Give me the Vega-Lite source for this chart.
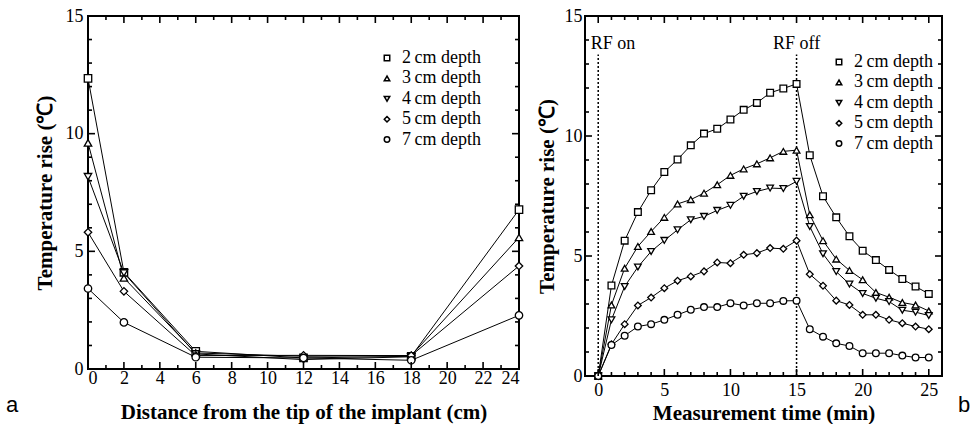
{
  "$schema": "https://vega.github.io/schema/vega-lite/v6.json",
  "background": "white",
  "padding": {"left": 4, "top": 6, "right": 0, "bottom": 0},
  "spacing": 8,
  "resolve": {"scale": {"shape": "independent"}, "legend": {"shape": "independent"}},
  "config": {
    "font": "Liberation Serif",
    "view": {"stroke": "black", "strokeWidth": 2},
    "axis": {
      "domain": false, "ticks": true, "tickSize": 0, "labelOverlap": false,
      "labelColor": "black", "labelFont": "Liberation Serif", "labelFontSize": 18,
      "titleFont": "Liberation Serif", "titleFontSize": 21, "titleFontWeight": "bold", "titleColor": "black",
      "grid": false
    },
    "legend": {
      "labelFont": "Liberation Serif", "labelFontSize": 18, "labelColor": "black", "labelOffset": 6,
      "symbolSize": 30, "rowPadding": 2.4
    },
    "rule": {"color": "black", "strokeWidth": 1.6}
  },
  "datasets": {
    "dist": [
      {"depth": "2\u2009cm depth", "d": 0, "temp": 12.35}, {"depth": "2\u2009cm depth", "d": 2, "temp": 4.11}, {"depth": "2\u2009cm depth", "d": 6, "temp": 0.75}, {"depth": "2\u2009cm depth", "d": 12, "temp": 0.47}, {"depth": "2\u2009cm depth", "d": 18, "temp": 0.54}, {"depth": "2\u2009cm depth", "d": 24, "temp": 6.77},
      {"depth": "3\u2009cm depth", "d": 0, "temp": 9.61}, {"depth": "3\u2009cm depth", "d": 2, "temp": 3.87}, {"depth": "3\u2009cm depth", "d": 6, "temp": 0.68}, {"depth": "3\u2009cm depth", "d": 12, "temp": 0.54}, {"depth": "3\u2009cm depth", "d": 18, "temp": 0.57}, {"depth": "3\u2009cm depth", "d": 24, "temp": 5.59},
      {"depth": "4\u2009cm depth", "d": 0, "temp": 8.17}, {"depth": "4\u2009cm depth", "d": 2, "temp": 4.08}, {"depth": "4\u2009cm depth", "d": 6, "temp": 0.64}, {"depth": "4\u2009cm depth", "d": 12, "temp": 0.40}, {"depth": "4\u2009cm depth", "d": 18, "temp": 0.52},
      {"depth": "5\u2009cm depth", "d": 0, "temp": 5.81}, {"depth": "5\u2009cm depth", "d": 2, "temp": 3.30}, {"depth": "5\u2009cm depth", "d": 6, "temp": 0.57}, {"depth": "5\u2009cm depth", "d": 12, "temp": 0.58}, {"depth": "5\u2009cm depth", "d": 18, "temp": 0.57}, {"depth": "5\u2009cm depth", "d": 24, "temp": 4.38},
      {"depth": "7\u2009cm depth", "d": 0, "temp": 3.42}, {"depth": "7\u2009cm depth", "d": 2, "temp": 1.98}, {"depth": "7\u2009cm depth", "d": 6, "temp": 0.50}, {"depth": "7\u2009cm depth", "d": 12, "temp": 0.47}, {"depth": "7\u2009cm depth", "d": 18, "temp": 0.37}, {"depth": "7\u2009cm depth", "d": 24, "temp": 2.28}
    ],
    "time": [
      {"depth": "2\u2009cm depth", "t": 0, "temp": 0}, {"depth": "2\u2009cm depth", "t": 1, "temp": 3.77}, {"depth": "2\u2009cm depth", "t": 2, "temp": 5.64}, {"depth": "2\u2009cm depth", "t": 3, "temp": 6.83}, {"depth": "2\u2009cm depth", "t": 4, "temp": 7.74}, {"depth": "2\u2009cm depth", "t": 5, "temp": 8.50}, {"depth": "2\u2009cm depth", "t": 6, "temp": 9.02}, {"depth": "2\u2009cm depth", "t": 7, "temp": 9.61}, {"depth": "2\u2009cm depth", "t": 8, "temp": 10.10}, {"depth": "2\u2009cm depth", "t": 9, "temp": 10.30}, {"depth": "2\u2009cm depth", "t": 10, "temp": 10.69}, {"depth": "2\u2009cm depth", "t": 11, "temp": 11.09}, {"depth": "2\u2009cm depth", "t": 12, "temp": 11.38}, {"depth": "2\u2009cm depth", "t": 13, "temp": 11.80}, {"depth": "2\u2009cm depth", "t": 14, "temp": 11.98}, {"depth": "2\u2009cm depth", "t": 15, "temp": 12.17}, {"depth": "2\u2009cm depth", "t": 16, "temp": 9.20}, {"depth": "2\u2009cm depth", "t": 17, "temp": 7.49}, {"depth": "2\u2009cm depth", "t": 18, "temp": 6.61}, {"depth": "2\u2009cm depth", "t": 19, "temp": 5.82}, {"depth": "2\u2009cm depth", "t": 20, "temp": 5.22}, {"depth": "2\u2009cm depth", "t": 21, "temp": 4.83}, {"depth": "2\u2009cm depth", "t": 22, "temp": 4.42}, {"depth": "2\u2009cm depth", "t": 23, "temp": 4.04}, {"depth": "2\u2009cm depth", "t": 24, "temp": 3.73}, {"depth": "2\u2009cm depth", "t": 25, "temp": 3.42},
      {"depth": "3\u2009cm depth", "t": 0, "temp": 0}, {"depth": "3\u2009cm depth", "t": 1, "temp": 2.96}, {"depth": "3\u2009cm depth", "t": 2, "temp": 4.49}, {"depth": "3\u2009cm depth", "t": 3, "temp": 5.40}, {"depth": "3\u2009cm depth", "t": 4, "temp": 6.02}, {"depth": "3\u2009cm depth", "t": 5, "temp": 6.61}, {"depth": "3\u2009cm depth", "t": 6, "temp": 7.17}, {"depth": "3\u2009cm depth", "t": 7, "temp": 7.35}, {"depth": "3\u2009cm depth", "t": 8, "temp": 7.62}, {"depth": "3\u2009cm depth", "t": 9, "temp": 7.97}, {"depth": "3\u2009cm depth", "t": 10, "temp": 8.36}, {"depth": "3\u2009cm depth", "t": 11, "temp": 8.63}, {"depth": "3\u2009cm depth", "t": 12, "temp": 8.84}, {"depth": "3\u2009cm depth", "t": 13, "temp": 9.09}, {"depth": "3\u2009cm depth", "t": 14, "temp": 9.36}, {"depth": "3\u2009cm depth", "t": 15, "temp": 9.41}, {"depth": "3\u2009cm depth", "t": 16, "temp": 6.72}, {"depth": "3\u2009cm depth", "t": 17, "temp": 5.64}, {"depth": "3\u2009cm depth", "t": 18, "temp": 4.87}, {"depth": "3\u2009cm depth", "t": 19, "temp": 4.40}, {"depth": "3\u2009cm depth", "t": 20, "temp": 4.01}, {"depth": "3\u2009cm depth", "t": 21, "temp": 3.48}, {"depth": "3\u2009cm depth", "t": 22, "temp": 3.28}, {"depth": "3\u2009cm depth", "t": 23, "temp": 3.06}, {"depth": "3\u2009cm depth", "t": 24, "temp": 2.96}, {"depth": "3\u2009cm depth", "t": 25, "temp": 2.71},
      {"depth": "4\u2009cm depth", "t": 0, "temp": 0}, {"depth": "4\u2009cm depth", "t": 1, "temp": 2.34}, {"depth": "4\u2009cm depth", "t": 2, "temp": 3.73}, {"depth": "4\u2009cm depth", "t": 3, "temp": 4.54}, {"depth": "4\u2009cm depth", "t": 4, "temp": 5.19}, {"depth": "4\u2009cm depth", "t": 5, "temp": 5.65}, {"depth": "4\u2009cm depth", "t": 6, "temp": 6.09}, {"depth": "4\u2009cm depth", "t": 7, "temp": 6.51}, {"depth": "4\u2009cm depth", "t": 8, "temp": 6.65}, {"depth": "4\u2009cm depth", "t": 9, "temp": 6.90}, {"depth": "4\u2009cm depth", "t": 10, "temp": 7.11}, {"depth": "4\u2009cm depth", "t": 11, "temp": 7.49}, {"depth": "4\u2009cm depth", "t": 12, "temp": 7.69}, {"depth": "4\u2009cm depth", "t": 13, "temp": 7.83}, {"depth": "4\u2009cm depth", "t": 14, "temp": 7.81}, {"depth": "4\u2009cm depth", "t": 15, "temp": 8.11}, {"depth": "4\u2009cm depth", "t": 16, "temp": 6.23}, {"depth": "4\u2009cm depth", "t": 17, "temp": 5.09}, {"depth": "4\u2009cm depth", "t": 18, "temp": 4.35}, {"depth": "4\u2009cm depth", "t": 19, "temp": 3.83}, {"depth": "4\u2009cm depth", "t": 20, "temp": 3.44}, {"depth": "4\u2009cm depth", "t": 21, "temp": 3.24}, {"depth": "4\u2009cm depth", "t": 22, "temp": 3.10}, {"depth": "4\u2009cm depth", "t": 23, "temp": 2.74}, {"depth": "4\u2009cm depth", "t": 24, "temp": 2.66}, {"depth": "4\u2009cm depth", "t": 25, "temp": 2.52},
      {"depth": "5\u2009cm depth", "t": 0, "temp": 0}, {"depth": "5\u2009cm depth", "t": 1, "temp": 1.32}, {"depth": "5\u2009cm depth", "t": 2, "temp": 2.16}, {"depth": "5\u2009cm depth", "t": 3, "temp": 2.94}, {"depth": "5\u2009cm depth", "t": 4, "temp": 3.27}, {"depth": "5\u2009cm depth", "t": 5, "temp": 3.66}, {"depth": "5\u2009cm depth", "t": 6, "temp": 3.97}, {"depth": "5\u2009cm depth", "t": 7, "temp": 4.15}, {"depth": "5\u2009cm depth", "t": 8, "temp": 4.36}, {"depth": "5\u2009cm depth", "t": 9, "temp": 4.73}, {"depth": "5\u2009cm depth", "t": 10, "temp": 4.70}, {"depth": "5\u2009cm depth", "t": 11, "temp": 5.05}, {"depth": "5\u2009cm depth", "t": 12, "temp": 5.12}, {"depth": "5\u2009cm depth", "t": 13, "temp": 5.33}, {"depth": "5\u2009cm depth", "t": 14, "temp": 5.30}, {"depth": "5\u2009cm depth", "t": 15, "temp": 5.64}, {"depth": "5\u2009cm depth", "t": 16, "temp": 4.24}, {"depth": "5\u2009cm depth", "t": 17, "temp": 3.76}, {"depth": "5\u2009cm depth", "t": 18, "temp": 3.14}, {"depth": "5\u2009cm depth", "t": 19, "temp": 2.96}, {"depth": "5\u2009cm depth", "t": 20, "temp": 2.55}, {"depth": "5\u2009cm depth", "t": 21, "temp": 2.55}, {"depth": "5\u2009cm depth", "t": 22, "temp": 2.34}, {"depth": "5\u2009cm depth", "t": 23, "temp": 2.20}, {"depth": "5\u2009cm depth", "t": 24, "temp": 2.06}, {"depth": "5\u2009cm depth", "t": 25, "temp": 1.95},
      {"depth": "7\u2009cm depth", "t": 0, "temp": 0}, {"depth": "7\u2009cm depth", "t": 1, "temp": 1.29}, {"depth": "7\u2009cm depth", "t": 2, "temp": 1.68}, {"depth": "7\u2009cm depth", "t": 3, "temp": 2.06}, {"depth": "7\u2009cm depth", "t": 4, "temp": 2.16}, {"depth": "7\u2009cm depth", "t": 5, "temp": 2.34}, {"depth": "7\u2009cm depth", "t": 6, "temp": 2.55}, {"depth": "7\u2009cm depth", "t": 7, "temp": 2.76}, {"depth": "7\u2009cm depth", "t": 8, "temp": 2.87}, {"depth": "7\u2009cm depth", "t": 9, "temp": 2.87}, {"depth": "7\u2009cm depth", "t": 10, "temp": 3.03}, {"depth": "7\u2009cm depth", "t": 11, "temp": 2.94}, {"depth": "7\u2009cm depth", "t": 12, "temp": 3.03}, {"depth": "7\u2009cm depth", "t": 13, "temp": 3.03}, {"depth": "7\u2009cm depth", "t": 14, "temp": 3.13}, {"depth": "7\u2009cm depth", "t": 15, "temp": 3.14}, {"depth": "7\u2009cm depth", "t": 16, "temp": 1.95}, {"depth": "7\u2009cm depth", "t": 17, "temp": 1.64}, {"depth": "7\u2009cm depth", "t": 18, "temp": 1.36}, {"depth": "7\u2009cm depth", "t": 19, "temp": 1.25}, {"depth": "7\u2009cm depth", "t": 20, "temp": 0.95}, {"depth": "7\u2009cm depth", "t": 21, "temp": 0.95}, {"depth": "7\u2009cm depth", "t": 22, "temp": 0.95}, {"depth": "7\u2009cm depth", "t": 23, "temp": 0.85}, {"depth": "7\u2009cm depth", "t": 24, "temp": 0.77}, {"depth": "7\u2009cm depth", "t": 25, "temp": 0.77}
    ],
    "lxMaj": [{"v": 0}, {"v": 2}, {"v": 4}, {"v": 6}, {"v": 8}, {"v": 10}, {"v": 12}, {"v": 14}, {"v": 16}, {"v": 18}, {"v": 20}, {"v": 22}, {"v": 24}],
    "lxMin": [{"v": 1}, {"v": 3}, {"v": 5}, {"v": 7}, {"v": 9}, {"v": 11}, {"v": 13}, {"v": 15}, {"v": 17}, {"v": 19}, {"v": 21}, {"v": 23}],
    "yMaj": [{"v": 0}, {"v": 5}, {"v": 10}, {"v": 15}],
    "yMin": [{"v": 1}, {"v": 2}, {"v": 3}, {"v": 4}, {"v": 6}, {"v": 7}, {"v": 8}, {"v": 9}, {"v": 11}, {"v": 12}, {"v": 13}, {"v": 14}],
    "rxMaj": [{"v": 0}, {"v": 5}, {"v": 10}, {"v": 15}, {"v": 20}, {"v": 25}],
    "rxMin": [{"v": 1}, {"v": 2}, {"v": 3}, {"v": 4}, {"v": 6}, {"v": 7}, {"v": 8}, {"v": 9}, {"v": 11}, {"v": 12}, {"v": 13}, {"v": 14}, {"v": 16}, {"v": 17}, {"v": 18}, {"v": 19}, {"v": 21}, {"v": 22}, {"v": 23}, {"v": 24}]
  },
  "hconcat": [
    {
      "width": 431,
      "height": 353,
      "resolve": {"axis": {"x": "independent", "y": "independent"}},
      "layer": [
        {
          "data": {"name": "dist"},
          "mark": {"type": "line", "color": "black", "strokeWidth": 1},
          "encoding": {
            "x": {"field": "d", "type": "quantitative", "scale": {"domain": [0, 24], "nice": false},
              "axis": {"orient": "bottom", "values": [0,2,4,6,8,10,12,14,16,18,20,22,24], "labelOverlap": false,
                "labelPadding": 0, "title": "Distance from the tip of the implant (cm)", "titlePadding": 14}},
            "y": {"field": "temp", "type": "quantitative", "scale": {"domain": [0, 15], "nice": false},
              "axis": {"orient": "left", "values": [0,5,10,15], "labelOverlap": false,
                "labelPadding": 5, "title": "Temperature rise (\u2103)", "titlePadding": 10}},
            "detail": {"field": "depth"}
          }
        },
        {
          "data": {"name": "dist"},
          "mark": {"type": "point", "filled": true, "fill": "white", "stroke": "black", "strokeWidth": 1.3, "size": 55, "opacity": 1},
          "encoding": {
            "x": {"field": "d", "type": "quantitative", "axis": null},
            "y": {"field": "temp", "type": "quantitative", "axis": null},
            "shape": {"field": "depth", "type": "nominal",
              "scale": {"range": ["square", "triangle-up", "triangle-down", "diamond", "circle"]},
              "legend": {"orient": "none", "legendX": 290, "legendY": 33, "title": null,
                "encode": {"symbols": {"update": {"stroke": {"value": "black"}, "fill": {"value": "white"}, "strokeWidth": {"value": 1.3}, "opacity": {"value": 1}}}}}}
          }
        },
        {"data": {"name": "lxMaj"}, "mark": "rule", "encoding": {"x": {"field": "v", "type": "quantitative", "axis": null}, "y": {"datum": 0, "type": "quantitative", "axis": null}, "y2": {"datum": 0.2975}}},
        {"data": {"name": "lxMaj"}, "mark": "rule", "encoding": {"x": {"field": "v", "type": "quantitative", "axis": null}, "y": {"datum": 15, "type": "quantitative", "axis": null}, "y2": {"datum": 14.7025}}},
        {"data": {"name": "lxMin"}, "mark": "rule", "encoding": {"x": {"field": "v", "type": "quantitative", "axis": null}, "y": {"datum": 0, "type": "quantitative", "axis": null}, "y2": {"datum": 0.17}}},
        {"data": {"name": "lxMin"}, "mark": "rule", "encoding": {"x": {"field": "v", "type": "quantitative", "axis": null}, "y": {"datum": 15, "type": "quantitative", "axis": null}, "y2": {"datum": 14.83}}},
        {"data": {"name": "yMaj"}, "mark": "rule", "encoding": {"y": {"field": "v", "type": "quantitative", "axis": null}, "x": {"datum": 0, "type": "quantitative", "axis": null}, "x2": {"datum": 0.39}}},
        {"data": {"name": "yMaj"}, "mark": "rule", "encoding": {"y": {"field": "v", "type": "quantitative", "axis": null}, "x": {"datum": 24, "type": "quantitative", "axis": null}, "x2": {"datum": 23.61}}},
        {"data": {"name": "yMin"}, "mark": "rule", "encoding": {"y": {"field": "v", "type": "quantitative", "axis": null}, "x": {"datum": 0, "type": "quantitative", "axis": null}, "x2": {"datum": 0.223}}},
        {"data": {"name": "yMin"}, "mark": "rule", "encoding": {"y": {"field": "v", "type": "quantitative", "axis": null}, "x": {"datum": 24, "type": "quantitative", "axis": null}, "x2": {"datum": 23.777}}},
        {
          "data": {"values": [{}]},
          "mark": {"type": "text", "text": "a", "font": "Liberation Sans", "fontSize": 22, "align": "center", "baseline": "alphabetic", "color": "black"},
          "encoding": {
            "x": {"datum": -4.23, "type": "quantitative", "axis": null},
            "y": {"datum": -1.82, "type": "quantitative", "axis": null}
          }
        }
      ]
    },
    {
      "width": 357,
      "height": 360,
      "resolve": {"axis": {"x": "independent", "y": "independent"}},
      "layer": [
        {
          "data": {"name": "time"},
          "mark": {"type": "line", "color": "black", "strokeWidth": 1},
          "encoding": {
            "x": {"field": "t", "type": "quantitative", "scale": {"domain": [-1, 26], "nice": false},
              "axis": {"orient": "bottom", "values": [0,5,10,15,20,25], "labelOverlap": false,
                "labelPadding": 5, "title": "Measurement time (min)", "titlePadding": 3}},
            "y": {"field": "temp", "type": "quantitative", "scale": {"domain": [0, 15], "nice": false},
              "axis": {"orient": "left", "values": [0,5,10,15], "labelOverlap": false,
                "labelPadding": 3, "title": "Temperature rise (\u2103)", "titlePadding": 7}},
            "detail": {"field": "depth"}
          }
        },
        {
          "data": {"values": [{"t": 0}, {"t": 15}]},
          "mark": {"type": "rule", "color": "black", "strokeWidth": 1.5, "strokeDash": [2, 2]},
          "encoding": {
            "x": {"field": "t", "type": "quantitative", "axis": null},
            "y": {"datum": 0, "type": "quantitative", "axis": null},
            "y2": {"datum": 13.4}
          }
        },
        {
          "data": {"name": "time"},
          "mark": {"type": "point", "filled": true, "fill": "white", "stroke": "black", "strokeWidth": 1.3, "size": 45, "opacity": 1},
          "encoding": {
            "x": {"field": "t", "type": "quantitative", "axis": null},
            "y": {"field": "temp", "type": "quantitative", "axis": null},
            "shape": {"field": "depth", "type": "nominal",
              "scale": {"range": ["square", "triangle-up", "triangle-down", "diamond", "circle"]},
              "legend": {"orient": "none", "legendX": 245, "legendY": 37, "title": null,
                "encode": {"symbols": {"update": {"stroke": {"value": "black"}, "fill": {"value": "white"}, "strokeWidth": {"value": 1.3}, "opacity": {"value": 1}}}}}}
          }
        },
        {"data": {"name": "rxMaj"}, "mark": "rule", "encoding": {"x": {"field": "v", "type": "quantitative", "axis": null}, "y": {"datum": 0, "type": "quantitative", "axis": null}, "y2": {"datum": 0.2917}}},
        {"data": {"name": "rxMaj"}, "mark": "rule", "encoding": {"x": {"field": "v", "type": "quantitative", "axis": null}, "y": {"datum": 15, "type": "quantitative", "axis": null}, "y2": {"datum": 14.7083}}},
        {"data": {"name": "rxMin"}, "mark": "rule", "encoding": {"x": {"field": "v", "type": "quantitative", "axis": null}, "y": {"datum": 0, "type": "quantitative", "axis": null}, "y2": {"datum": 0.1667}}},
        {"data": {"name": "rxMin"}, "mark": "rule", "encoding": {"x": {"field": "v", "type": "quantitative", "axis": null}, "y": {"datum": 15, "type": "quantitative", "axis": null}, "y2": {"datum": 14.8333}}},
        {"data": {"name": "yMaj"}, "mark": "rule", "encoding": {"y": {"field": "v", "type": "quantitative", "axis": null}, "x": {"datum": -1, "type": "quantitative", "axis": null}, "x2": {"datum": -0.471}}},
        {"data": {"name": "yMaj"}, "mark": "rule", "encoding": {"y": {"field": "v", "type": "quantitative", "axis": null}, "x": {"datum": 26, "type": "quantitative", "axis": null}, "x2": {"datum": 25.471}}},
        {"data": {"name": "yMin"}, "mark": "rule", "encoding": {"y": {"field": "v", "type": "quantitative", "axis": null}, "x": {"datum": -1, "type": "quantitative", "axis": null}, "x2": {"datum": -0.6975}}},
        {"data": {"name": "yMin"}, "mark": "rule", "encoding": {"y": {"field": "v", "type": "quantitative", "axis": null}, "x": {"datum": 26, "type": "quantitative", "axis": null}, "x2": {"datum": 25.6975}}},
        {
          "data": {"values": [{}]},
          "mark": {"type": "text", "text": "RF on", "fontSize": 18, "align": "center", "baseline": "middle", "color": "black"},
          "encoding": {
            "x": {"datum": 1.11, "type": "quantitative", "axis": null},
            "y": {"datum": 13.85, "type": "quantitative", "axis": null}
          }
        },
        {
          "data": {"values": [{}]},
          "mark": {"type": "text", "text": "RF off", "fontSize": 18, "align": "center", "baseline": "middle", "color": "black"},
          "encoding": {
            "x": {"datum": 15, "type": "quantitative", "axis": null},
            "y": {"datum": 13.85, "type": "quantitative", "axis": null}
          }
        },
        {
          "data": {"values": [{}]},
          "mark": {"type": "text", "text": "b", "font": "Liberation Sans", "fontSize": 22, "align": "center", "baseline": "alphabetic", "color": "black"},
          "encoding": {
            "x": {"datum": 27.68, "type": "quantitative", "axis": null},
            "y": {"datum": -1.49, "type": "quantitative", "axis": null}
          }
        }
      ]
    }
  ]
}
